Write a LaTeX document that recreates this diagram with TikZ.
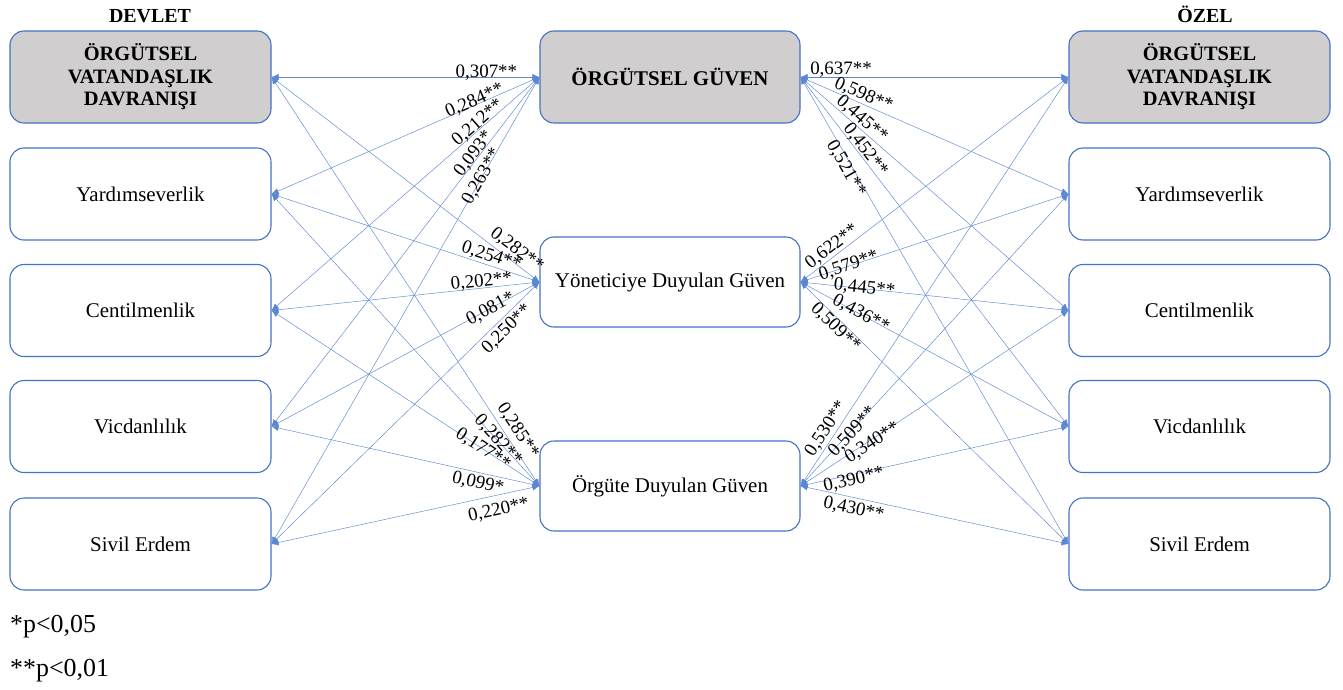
\documentclass[tikz,border=0pt]{standalone}
\usepackage{fontspec}
\setmainfont{Liberation Serif}
\usetikzlibrary{arrows.meta}

\definecolor{frameblue}{HTML}{4472C4}
\definecolor{linkblue}{HTML}{5B86D2}
\definecolor{boxgray}{HTML}{D0CECE}

\tikzset{
  box/.style={draw=frameblue, line width=1.1bp, rounded corners=14bp, fill=white,
    minimum width=261bp, minimum height=92bp, inner sep=0pt,
    font=\fontsize{21}{25}\selectfont},
  keybox/.style={box, fill=boxgray, align=center,
    font=\bfseries\fontsize{20.5}{22.5}\selectfont},
  midbox/.style={box, minimum width=260bp, minimum height=90bp},
  link/.style={draw=linkblue, line width=0.45bp,
    {Latex[length=7bp,width=6bp]}-{Latex[length=7bp,width=6bp]}},
  coef/.style={font=\fontsize{19}{19}\selectfont, sloped, inner sep=0pt, anchor=center},
  header/.style={font=\bfseries\fontsize{20}{20}\selectfont, anchor=base, inner sep=0pt},
  note/.style={font=\fontsize{26}{26}\selectfont, anchor=base west, inner sep=0pt},
}

\begin{document}
\begin{tikzpicture}[x=1bp,y=1bp]
\fill[white] (0,0) rectangle (1343,-689);
\useasboundingbox (0,0) rectangle (1343,-689);

% group headings
\node[header] (devlet) at (150,-23) {DEVLET};
\node[header] (ozel) at (1205,-23) {ÖZEL};

% public sector: citizenship behaviour and its dimensions
\node[keybox] (l1) at (140.5,-77) {ÖRGÜTSEL\\VATANDAŞLIK\\DAVRANIŞI};
\node[box] (l2) at (140.5,-194) {Yardımseverlik};
\node[box] (l3) at (140.5,-310.5) {Centilmenlik};
\node[box] (l4) at (140.5,-426.5) {Vicdanlılık};
\node[box] (l5) at (140.5,-544) {Sivil Erdem};

% trust and its dimensions
\node[keybox, minimum width=260bp, font=\bfseries\fontsize{21}{23}\selectfont] (m1) at (670,-77) {ÖRGÜTSEL GÜVEN};
\node[midbox] (m2) at (670,-282) {Yöneticiye Duyulan Güven};
\node[midbox] (m3) at (670,-486) {Örgüte Duyulan Güven};

% private sector: citizenship behaviour and its dimensions
\node[keybox] (r1) at (1199.5,-77) {ÖRGÜTSEL\\VATANDAŞLIK\\DAVRANIŞI};
\node[box] (r2) at (1199.5,-194) {Yardımseverlik};
\node[box] (r3) at (1199.5,-310.5) {Centilmenlik};
\node[box] (r4) at (1199.5,-426.5) {Vicdanlılık};
\node[box] (r5) at (1199.5,-544) {Sivil Erdem};

% correlations, public sector
\draw[link] (m1.west) -- node[coef,pos=.198,yshift=4.7bp]{0,307**} (l1.east);
\draw[link] (m1.west) -- node[coef,pos=.236,yshift=3.9bp]{0,284**} (l2.east);
\draw[link] (m1.west) -- node[coef,pos=.215,yshift=5.9bp]{0,212**} (l3.east);
\draw[link] (m1.west) -- node[coef,pos=.229,yshift=5.4bp]{0,093*} (l4.east);
\draw[link] (m1.west) -- node[coef,pos=.214,yshift=0.2bp]{0,263**} (l5.east);

\draw[link] (m2.west) -- node[coef,pos=.111,yshift=11.7bp]{0,282**} (l1.east);
\draw[link] (m2.west) -- node[coef,pos=.190,yshift=9.1bp]{0,254**} (l2.east);
\draw[link] (m2.west) -- node[coef,pos=.214,yshift=6.3bp]{0,202**} (l3.east);
\draw[link] (m2.west) -- node[coef,pos=.183,yshift=-0.5bp]{0,081*} (l4.east);
\draw[link] (m2.west) -- node[coef,pos=.150,yshift=-10.9bp]{0,250**} (l5.east);

\draw[link] (m3.west) -- node[coef,pos=.119,yshift=12.3bp]{0,285**} (l1.east);
\draw[link] (m3.west) -- node[coef,pos=.156,yshift=0.5bp]{0,282**} (l2.east);
\draw[link] (m3.west) -- node[coef,pos=.210,yshift=-0.3bp]{0,177**} (l3.east);
\draw[link] (m3.west) -- node[coef,pos=.221,yshift=-10.6bp]{0,099*} (l4.east);
\draw[link] (m3.west) -- node[coef,pos=.164,yshift=-14.9bp]{0,220**} (l5.east);

% correlations, private sector
\draw[link] (m1.east) -- node[coef,pos=.151,yshift=7bp]{0,637**} (r1.west);
\draw[link] (m1.east) -- node[coef,pos=.222,yshift=8.8bp]{0,598**} (r2.west);
\draw[link] (m1.east) -- node[coef,pos=.208,yshift=8.6bp]{0,445**} (r3.west);
\draw[link] (m1.east) -- node[coef,pos=.221,yshift=7bp]{0,452**} (r4.west);
\draw[link] (m1.east) -- node[coef,pos=.190,yshift=-6.3bp]{0,521**} (r5.west);

\draw[link] (m2.east) -- node[coef,pos=.138,yshift=8.9bp]{0,622**} (r1.west);
\draw[link] (m2.east) -- node[coef,pos=.180,yshift=0.2bp]{0,579**} (r2.west);
\draw[link] (m2.east) -- node[coef,pos=.238,yshift=0.6bp]{0,445**} (r3.west);
\draw[link] (m2.east) -- node[coef,pos=.224,yshift=0.6bp]{0,436**} (r4.west);
\draw[link] (m2.east) -- node[coef,pos=.151,yshift=-8bp]{0,509**} (r5.west);

\draw[link] (m3.east) -- node[coef,pos=.126,yshift=9.7bp]{0,530**} (r1.west);
\draw[link] (m3.east) -- node[coef,pos=.190,yshift=-1.7bp]{0,509**} (r2.west);
\draw[link] (m3.east) -- node[coef,pos=.262,yshift=-3.4bp]{0,340**} (r3.west);
\draw[link] (m3.east) -- node[coef,pos=.194,yshift=-5.5bp]{0,390**} (r4.west);
\draw[link] (m3.east) -- node[coef,pos=.207,yshift=-11.3bp]{0,430**} (r5.west);

% significance levels
\node[note] (p05) at (10,-632) {*p<0,05};
\node[note] (p01) at (10,-676) {**p<0,01};
\end{tikzpicture}
\end{document}
